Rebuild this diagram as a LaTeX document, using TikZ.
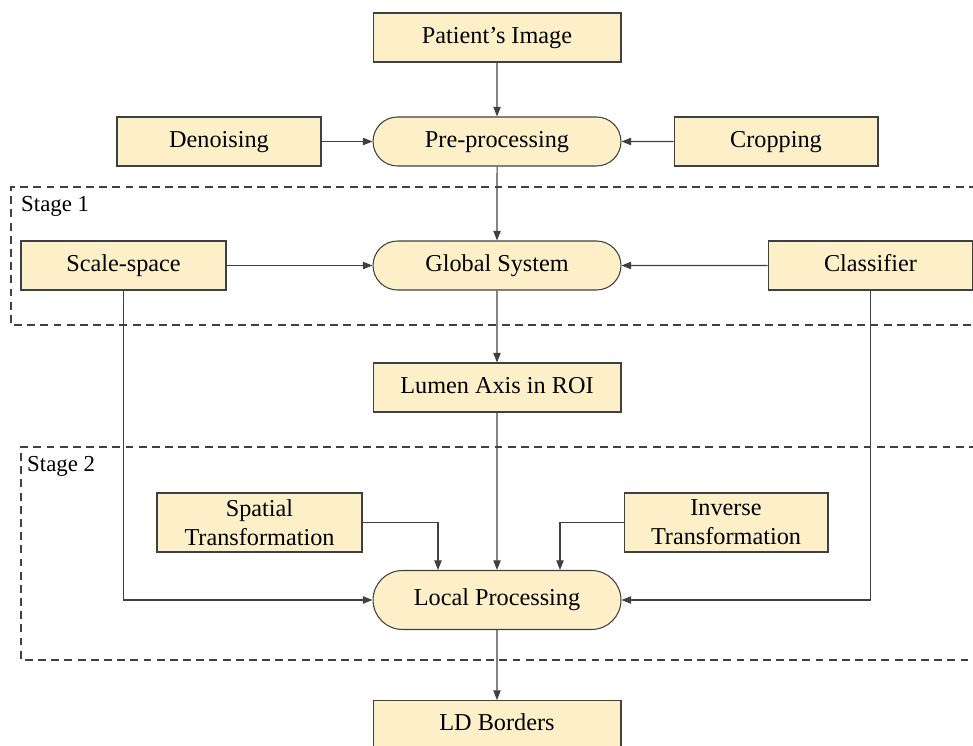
\documentclass[tikz,border=0pt]{standalone}
\usepackage{fontspec}
\setmainfont{Liberation Serif}
\usetikzlibrary{arrows.meta,shapes.misc}
\definecolor{boxfill}{HTML}{FDF0C8}
\definecolor{boxline}{HTML}{404040}

\begin{document}
\begin{tikzpicture}[x=0.02cm,y=-0.02cm,
  every node/.style={font=\fontsize{13.8}{16.5}\selectfont},
  block/.style={draw=boxline,fill=boxfill,line width=0.6pt,minimum width=4.96cm,minimum height=0.98cm,inner sep=0pt,text height=1.43ex,text depth=0pt},
  twoline/.style={block,text height=,text depth=,align=center,minimum width=4.1cm,minimum height=1.18cm},
  proc/.style={block,rounded rectangle},
  stagebox/.style={draw=black!75,dash pattern=on 4.5pt off 3pt,line width=0.6pt},
  stagelabel/.style={anchor=west,font=\fontsize{13}{15}\selectfont}]
\clip (0,0) rectangle (973,746);

% stages
\draw [stagebox] (990,187) -- (11,187) -- (11,325) -- (990,325);
\draw [stagebox] (990,447) -- (21,447) -- (21,660) -- (990,660);
\node [stagelabel] (s1) at (15,206) {Stage 1};
\node [stagelabel] (s2) at (21,466) {Stage 2};

\begin{scope}
\node [block] (img) at (497,37.5) {Patient’s Image};
\node [proc] (pre) at (497,141.5) {Pre-processing};
\node [block, minimum width=4.08cm] (den) at (219,141.5) {Denoising};
\node [block, minimum width=4.08cm] (crop) at (776,141.5) {Cropping};
\node [proc] (glob) at (497,265.5) {Global System};
\node [block, minimum width=4.1cm] (scale) at (123.5,265.5) {Scale-space};
\node [block, minimum width=4.1cm] (cls) at (870.5,265.5) {Classifier};
\node [block] (lumen) at (497,387.5) {Lumen Axis in ROI};
\node [twoline] (spat) at (259.5,522.5) {Spatial\\Transformation};
\node [twoline, minimum width=4.08cm] (inv) at (726,522.5) {Inverse\\Transformation};
\node [proc, minimum height=1.18cm] (local) at (497,600) {Local Processing};
\node [block] (ld) at (497,725) {LD Borders};
\end{scope}

\coordinate (spin) at (438,570);
\coordinate (invin) at (560,570);

\begin{scope}[>={Triangle[length=5.5pt,width=4.2pt]}, every path/.style={draw=boxline,line width=0.6pt}]
\draw [->] (img) -- (pre);
\draw [->] (den) -- (pre);
\draw [->] (crop) -- (pre);
\draw [->] (pre) -- (glob);
\draw [->] (scale) -- (glob);
\draw [->] (cls) -- (glob);
\draw [->] (glob) -- (lumen);
\draw [->] (lumen) -- (local);
\draw [->] (spat.east) -| (spin);
\draw [->] (inv.west) -| (invin);
\draw [->] (scale.south) |- (local.west);
\draw [->] (cls.south) |- (local.east);
\draw [->] (local) -- (ld);
\end{scope}
\end{tikzpicture}
\end{document}
